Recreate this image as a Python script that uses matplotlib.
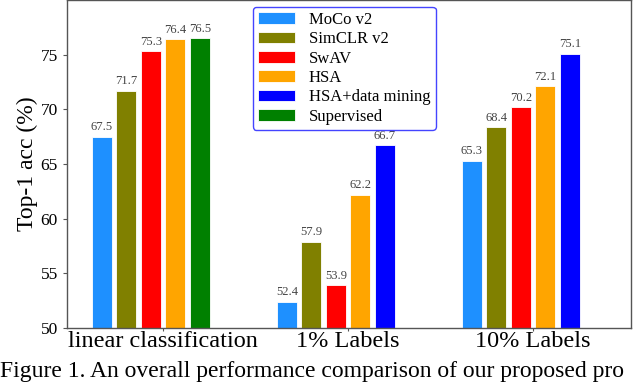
import numpy as np
import matplotlib
matplotlib.use("Agg")
import matplotlib.pyplot as plt

plt.rcParams['font.family'] = ['Liberation Serif', 'DejaVu Serif']

# data
groups = ['linear classification', '1% Labels', '10% Labels']
methods = ['MoCo v2', 'SimCLR v2', 'SwAV', 'HSA', 'HSA+data mining', 'Supervised']
colors = ['#1E90FF', '#808000', '#FF0000', '#FFA500', '#0000FF', '#008000']
moco = [67.5, 52.4, 65.3]
simclr = [71.7, 57.9, 68.4]
swav = [75.3, 53.9, 70.2]
hsa = [76.4, 62.2, 72.1]
hsa_dm = [np.nan, 66.7, 75.1]
supervised = [76.5, np.nan, np.nan]
values = [moco, simclr, swav, hsa, hsa_dm, supervised]
slots = [0, 1, 2, 3, 4, 4]   # supervised takes the empty slot in group 1

x = np.arange(len(groups))
step = 0.1324
width = 0.108

fig = plt.figure(figsize=(6.4, 3.84), dpi=100)
ax = fig.add_axes([0.1047, 0.1458, 0.8813, 0.8542])

for name, col, vals, s in zip(methods, colors, values, slots):
    xs = x + s * step
    ax.bar(xs, vals, width, color=col, label=name, edgecolor='white', linewidth=0.6)
    for xi, v in zip(xs, vals):
        if not np.isnan(v):
            ax.text(xi, v + 0.3, f'{v}', ha='center', va='bottom', fontsize=9, color='#444444')

ax.set_ylim(50, 80)
ax.set_yticks([50, 55, 60, 65, 70, 75])
ax.set_xlim(-0.189, 2.86)
ax.set_xticks(x + 2.5 * step)
ax.set_xticklabels(groups, fontsize=17.5)
ax.tick_params(axis='y', labelsize=12.5, length=3, color='#555555')
ax.tick_params(axis='x', length=2, pad=0, color='#555555')
ax.set_ylabel('Top-1 acc (%)', fontsize=17, labelpad=2)
for sp in ax.spines.values():
    sp.set_color('#555555')
    sp.set_linewidth(1.0)

leg = ax.legend(loc='upper left', bbox_to_anchor=(0.33, 0.979), fontsize=12,
                handlelength=2.2, handletextpad=0.85, labelspacing=0.2,
                borderpad=0.3, borderaxespad=0, fancybox=True, framealpha=1)
leg.get_frame().set_edgecolor('#4444ff')
leg.get_frame().set_linewidth(1.0)

# figure caption (cut off at the edge in the reference screenshot)
fig.text(0.0, 0.018, 'Figure 1. An overall performance comparison of our proposed pro',
         fontsize=17, va='baseline', ha='left')

fig.savefig('out.png', dpi=100)
